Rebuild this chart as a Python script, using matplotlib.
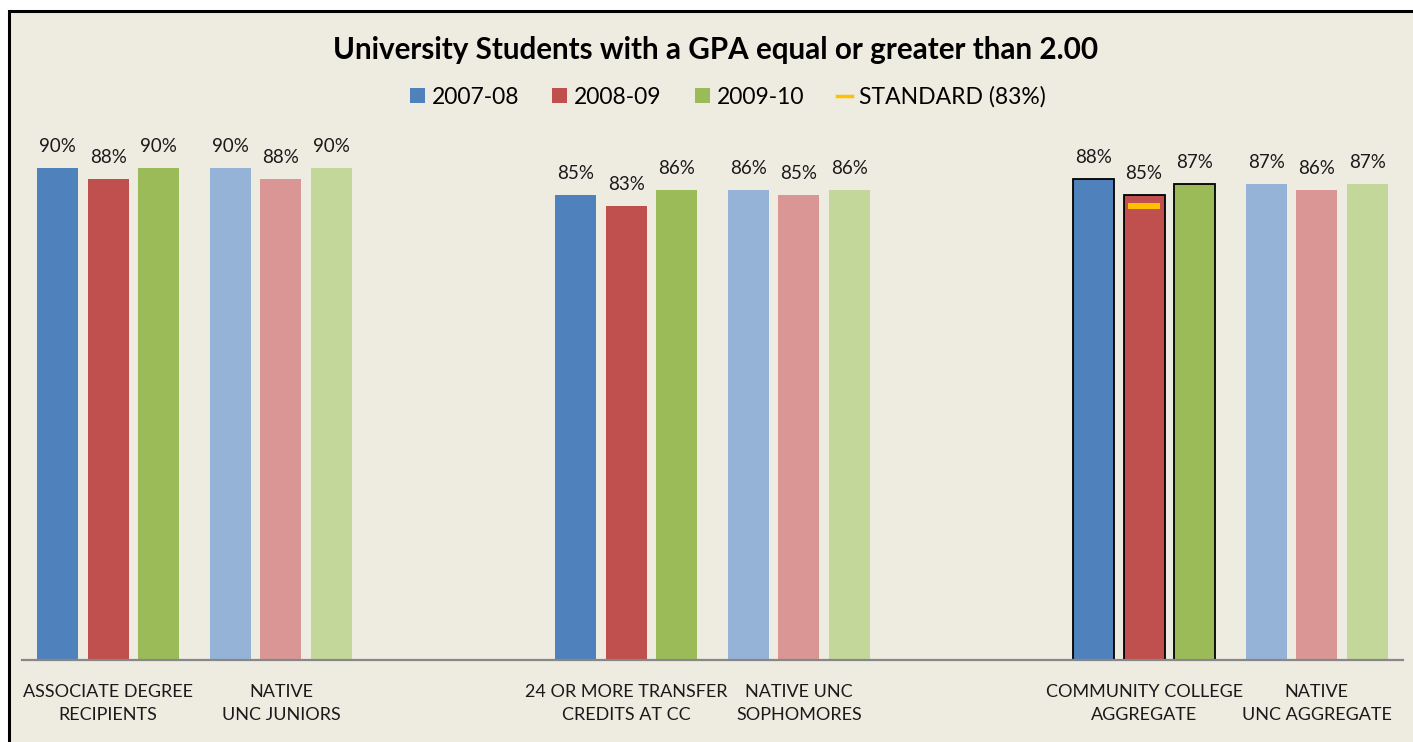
import matplotlib
matplotlib.use("Agg")
import matplotlib.pyplot as plt
from matplotlib.patches import Rectangle, Patch
from matplotlib.lines import Line2D
import numpy as np

plt.rcParams['font.family'] = ['Lato', 'DejaVu Sans']

# data
categories = ["ASSOCIATE DEGREE\nRECIPIENTS", "NATIVE\nUNC JUNIORS",
              "24 OR MORE TRANSFER\nCREDITS AT CC", "NATIVE UNC\nSOPHOMORES",
              "COMMUNITY COLLEGE\nAGGREGATE", "NATIVE\nUNC AGGREGATE"]
slots = [0, 1, 3, 4, 6, 7]  # two empty slots between the pairs
years = ["2007-08", "2008-09", "2009-10"]
v0708 = [0.90, 0.90, 0.85, 0.86, 0.88, 0.87]
v0809 = [0.88, 0.88, 0.83, 0.85, 0.85, 0.86]
v0910 = [0.90, 0.90, 0.86, 0.86, 0.87, 0.87]
standard = 0.83
standard_cat = 4  # drawn on the 2008-09 bar of the CC aggregate

dark = ["#4F81BD", "#C0504D", "#9BBB59"]
light = ["#95B3D7", "#DA9694", "#C4D79B"]
bg = "#EEECE1"

fig = plt.figure(figsize=(14.13, 7.42), dpi=100, facecolor="white")
W, H = 1413, 742
fig.patches.append(Rectangle((9 / W, -0.05), 1.1, 1 - 10.5 / H + 0.05,
                             transform=fig.transFigure, facecolor=bg,
                             edgecolor="black", linewidth=2.2, zorder=-10))

ax = fig.add_axes([22 / W, 82 / H, (1403 - 22) / W, (660 - 113.4) / H])
ax.set_facecolor("none")

width = 0.2375
step = 0.2926
series = [v0708, v0809, v0910]
for j, vals in enumerate(series):
    for i, (s, v) in enumerate(zip(slots, vals)):
        light_bar = i % 2 == 1
        col = light[j] if light_bar else dark[j]
        outlined = i == 4
        x = s + (j - 1) * step
        ax.bar(x, v, width=width, color=col,
               edgecolor="black" if outlined else "none",
               linewidth=1.3 if outlined else 0, zorder=2)
        ax.annotate(f"{v:.0%}", (x, v), xytext=(0, 11.5), textcoords="offset points",
                    ha="center", va="baseline", fontsize=13.5, color="#1a1a1a")

# standard line
sx = slots[standard_cat]
ax.plot([sx - 0.092, sx + 0.092], [standard, standard], color="#FFC000",
        lw=4.3, solid_capstyle="butt", zorder=3)

ax.set_xlim(-0.5, 7.5)
ax.set_ylim(0, 1.0)
ax.set_yticks([])
ax.set_xticks(slots)
ax.set_xticklabels(categories, fontsize=13, linespacing=1.6, color="#1a1a1a")
ax.tick_params(axis="x", length=0, pad=17)
for sp in ["top", "right", "left"]:
    ax.spines[sp].set_visible(False)
ax.spines["bottom"].set_color("#878787")
ax.spines["bottom"].set_linewidth(1.6)

fig.text(716 / W, 1 - 50 / H, "University Students with a GPA equal or greater than 2.00",
         ha="center", va="center", fontsize=21.3, fontweight="bold")

handles = [Patch(facecolor=c, edgecolor="none") for c in dark]
handles.append(Line2D([0], [0], color="#FFC000", lw=2.5))
labels = years + ["STANDARD (83%)"]
fig.legend(handles, labels, loc="center", bbox_to_anchor=(728 / W, 1 - 97 / H),
           ncol=4, frameon=False, fontsize=16.5, handlelength=0.65, handleheight=0.65,
           handletextpad=0.3, columnspacing=1.45)

fig.savefig("out.png", dpi=100, facecolor="white")
